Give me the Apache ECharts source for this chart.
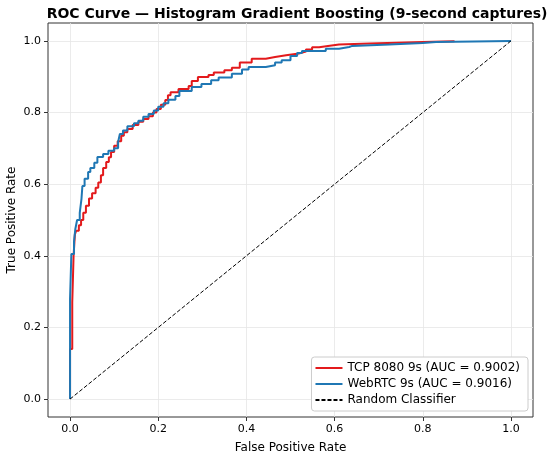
<!DOCTYPE html>
<html>
<head>
<meta charset="utf-8">
<script src="https://cdn.jsdelivr.net/npm/echarts@6/dist/echarts.min.js"></script>
<style>
html, body { margin: 0; padding: 0; background: #fff; }
#chart_box { width: 550px; height: 459px; }
</style>
</head>
<body>
<div id="chart_box"></div>
<script>
// ROC points [FPR, TPR] (staircase)
var tcpRoc = [
    [0, 0], [0, 0.14], [0.005, 0.14], [0.005, 0.27], [0.008, 0.27], [0.008, 0.40],
    [0.011, 0.40], [0.011, 0.46], [0.014, 0.46], [0.014, 0.47], [0.02, 0.47], [0.02, 0.485],
    [0.025, 0.485], [0.025, 0.50], [0.03, 0.50], [0.03, 0.52], [0.036, 0.52], [0.036, 0.54],
    [0.043, 0.54], [0.043, 0.56], [0.05, 0.56], [0.05, 0.575], [0.058, 0.575], [0.058, 0.59],
    [0.064, 0.59], [0.064, 0.605], [0.07, 0.605], [0.07, 0.625], [0.075, 0.625], [0.075, 0.645],
    [0.082, 0.645], [0.082, 0.662], [0.088, 0.662], [0.088, 0.675], [0.093, 0.675], [0.093, 0.69],
    [0.1, 0.69], [0.1, 0.707], [0.108, 0.707], [0.108, 0.72], [0.116, 0.72], [0.116, 0.735],
    [0.122, 0.735], [0.122, 0.745], [0.13, 0.745], [0.13, 0.754], [0.142, 0.754], [0.142, 0.765],
    [0.155, 0.765], [0.155, 0.774], [0.166, 0.774], [0.166, 0.782], [0.178, 0.782], [0.178, 0.79],
    [0.188, 0.79], [0.188, 0.80], [0.196, 0.80], [0.196, 0.81], [0.206, 0.81], [0.206, 0.822],
    [0.216, 0.822], [0.216, 0.835], [0.222, 0.835], [0.222, 0.848], [0.228, 0.848], [0.228, 0.857],
    [0.246, 0.857], [0.246, 0.866], [0.269, 0.866], [0.269, 0.874], [0.276, 0.874], [0.276, 0.888],
    [0.29, 0.888], [0.29, 0.899], [0.314, 0.899], [0.314, 0.905], [0.326, 0.905], [0.326, 0.912],
    [0.35, 0.912], [0.35, 0.918], [0.367, 0.918], [0.367, 0.925], [0.385, 0.925], [0.385, 0.94],
    [0.412, 0.94], [0.412, 0.95], [0.444, 0.95], [0.444, 0.955], [0.465, 0.955], [0.465, 0.96],
    [0.49, 0.96], [0.49, 0.965], [0.519, 0.965], [0.519, 0.97], [0.535, 0.97], [0.535, 0.976],
    [0.549, 0.976], [0.549, 0.982], [0.565, 0.982], [0.565, 0.986], [0.585, 0.986], [0.585, 0.99],
    [0.61, 0.99], [0.61, 0.993], [0.68, 0.993], [0.68, 0.995], [0.74, 0.995], [0.74, 0.997],
    [0.8, 0.997], [0.8, 0.999], [0.872, 0.999], [0.872, 1.0]
];
var webrtcRoc = [
    [0, 0], [0, 0.28], [0.003, 0.28], [0.003, 0.405], [0.009, 0.405], [0.009, 0.44],
    [0.012, 0.44], [0.012, 0.475], [0.016, 0.475], [0.016, 0.50], [0.022, 0.50], [0.022, 0.52],
    [0.026, 0.52], [0.026, 0.56], [0.028, 0.56], [0.028, 0.595], [0.033, 0.595], [0.033, 0.615],
    [0.041, 0.615], [0.041, 0.634], [0.046, 0.634], [0.046, 0.645], [0.055, 0.645], [0.055, 0.66],
    [0.062, 0.66], [0.062, 0.676], [0.075, 0.676], [0.075, 0.684], [0.087, 0.684], [0.087, 0.693],
    [0.1, 0.693], [0.1, 0.70], [0.109, 0.70], [0.109, 0.718], [0.113, 0.718], [0.113, 0.74],
    [0.12, 0.74], [0.12, 0.75], [0.13, 0.75], [0.13, 0.762], [0.145, 0.762], [0.145, 0.77],
    [0.155, 0.77], [0.155, 0.777], [0.166, 0.777], [0.166, 0.788], [0.178, 0.788], [0.178, 0.796],
    [0.19, 0.796], [0.19, 0.806], [0.20, 0.806], [0.20, 0.816], [0.212, 0.816], [0.212, 0.826],
    [0.223, 0.826], [0.223, 0.836], [0.239, 0.836], [0.239, 0.846], [0.248, 0.846], [0.248, 0.86],
    [0.276, 0.86], [0.276, 0.871], [0.298, 0.871], [0.298, 0.88], [0.32, 0.88], [0.32, 0.89],
    [0.337, 0.89], [0.337, 0.898], [0.367, 0.898], [0.367, 0.908], [0.39, 0.908], [0.39, 0.92],
    [0.405, 0.92], [0.405, 0.927], [0.444, 0.927], [0.444, 0.932], [0.465, 0.932], [0.465, 0.94],
    [0.48, 0.94], [0.48, 0.946], [0.5, 0.946], [0.5, 0.958], [0.515, 0.958], [0.515, 0.966],
    [0.526, 0.966], [0.526, 0.972], [0.58, 0.972], [0.58, 0.978], [0.61, 0.978], [0.61, 0.983],
    [0.633, 0.983], [0.633, 0.986], [0.64, 0.986], [0.64, 0.99], [0.724, 0.99], [0.724, 0.994],
    [0.8, 0.994], [0.8, 0.997], [0.83, 0.997], [0.83, 1.0], [1, 1]
];
var randomLine = [[0, 0], [1, 1]];
var tickValues = [0, 0.2, 0.4, 0.6, 0.8, 1.0];
var seriesNames = ['TCP 8080 9s (AUC = 0.9002)', 'WebRTC 9s (AUC = 0.9016)', 'Random Classifier'];

var myChart1 = echarts.init(document.getElementById('chart_box'));

var fontFam = 'DejaVu Sans';
function axisCfg(name, gap) {
    return {
        type: 'value',
        min: -0.05,
        max: 1.05,
        name: name,
        nameLocation: 'middle',
        nameGap: gap,
        nameMoveOverlap: false,
        nameTextStyle: { fontFamily: fontFam, fontSize: 12, color: '#000' },
        axisLine: { show: false, onZero: false },
        axisTick: { show: true, length: 4, customValues: tickValues, lineStyle: { color: '#333' } },
        axisLabel: {
            customValues: tickValues,
            fontFamily: fontFam, fontSize: 11, color: '#000', margin: 7,
            formatter: function (v) { return v.toFixed(1); }
        },
        splitLine: { show: false }
    };
}

// grid lines drawn as markLines at the tick values
var gridLines = [];
tickValues.forEach(function (v) {
    gridLines.push({ xAxis: v });
    gridLines.push({ yAxis: v });
});

var option = {
    animation: false,
    backgroundColor: '#fff',
    title: {
        text: 'ROC Curve — Histogram Gradient Boosting (9-second captures)',
        left: 292,
        textAlign: 'center',
        top: 2,
        textStyle: { fontFamily: fontFam, fontSize: 14, fontWeight: 'bold', color: '#000' }
    },
    legend: {
        data: seriesNames,
        orient: 'vertical',
        right: 22,
        bottom: 48,
        itemWidth: 27,
        itemHeight: 10,
        itemGap: 4,
        padding: [5, 8, 5, 3],
        backgroundColor: '#fff',
        borderColor: '#ccc',
        borderWidth: 1,
        borderRadius: 3,
        itemStyle: { opacity: 0 },
        textStyle: { fontFamily: fontFam, fontSize: 12, color: '#000' }
    },
    grid: {
        left: 48, right: 17, top: 23, bottom: 42,
        outerBoundsMode: 'none',
        containLabel: false,
        show: true, borderColor: '#333', borderWidth: 1
    },
    xAxis: axisCfg('False Positive Rate', 25),
    yAxis: axisCfg('True Positive Rate', 30),
    series: [
        {
            name: seriesNames[0],
            type: 'line',
            data: tcpRoc,
            symbol: 'none',
            lineStyle: { color: '#e31a1c', width: 2 },
            itemStyle: { color: '#e31a1c' },
            markLine: {
                silent: true,
                symbol: 'none',
                label: { show: false },
                lineStyle: { color: '#e6e6e6', width: 0.8, type: 'solid' },
                data: gridLines,
                z: 0
            },
            z: 2
        },
        {
            name: seriesNames[1],
            type: 'line',
            data: webrtcRoc,
            symbol: 'none',
            lineStyle: { color: '#1f77b4', width: 2 },
            itemStyle: { color: '#1f77b4' },
            z: 3
        },
        {
            name: seriesNames[2],
            type: 'line',
            data: randomLine,
            symbol: 'none',
            lineStyle: { color: '#000', width: 1, type: [4, 2] },
            itemStyle: { color: '#000' },
            z: 4
        }
    ]
};
myChart1.setOption(option);
</script>
</body>
</html>
